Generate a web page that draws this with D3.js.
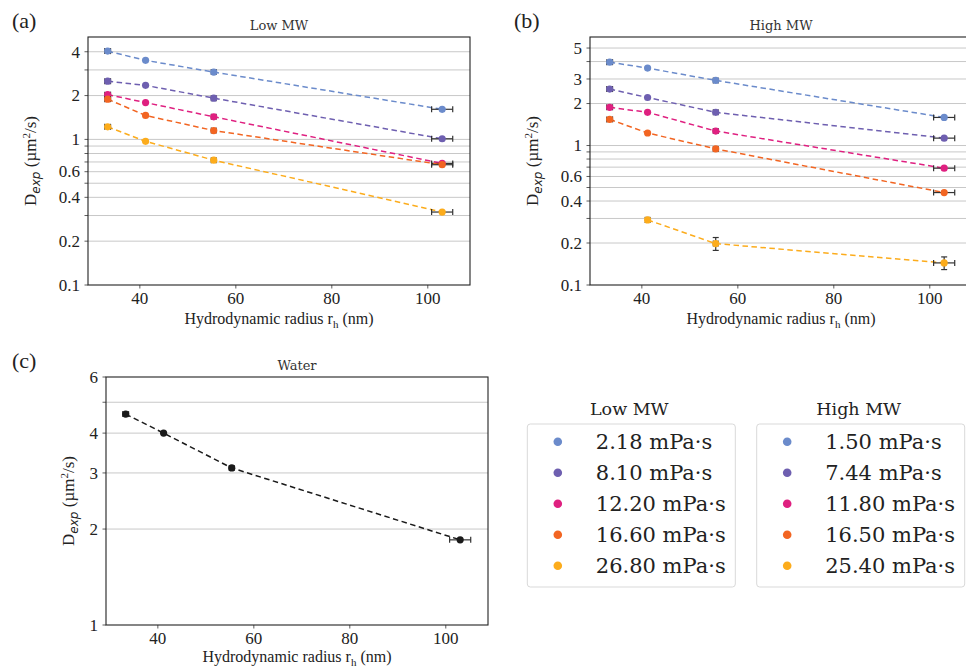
<!DOCTYPE html>
<html>
<head>
<meta charset="utf-8">
<script src="https://cdn.jsdelivr.net/npm/d3@7"></script>
<style>
  html, body { margin: 0; padding: 0; background: #fff; }
  svg { display: block; }
</style>
</head>
<body>
<svg id="chart" width="966" height="667"></svg>
<script>
// ---------------- DATA ----------------
const radius = [33.4, 41.3, 55.5, 103.1];          // hydrodynamic radius (nm)
const radiusErr = [0.6, 0, 0.5, 2.2];              // x error (nm)

const lowMWLabels = ["2.18 mPa·s", "8.10 mPa·s", "12.20 mPa·s", "16.60 mPa·s", "26.80 mPa·s"];
const highMWLabels = ["1.50 mPa·s", "7.44 mPa·s", "11.80 mPa·s", "16.50 mPa·s", "25.40 mPa·s"];
const seriesColors = ["#6b8bcb", "#6e5fb0", "#df2080", "#f26522", "#fcac1c"];

const lowMW_D = [
  [4.04, 3.49, 2.90, 1.61],
  [2.51, 2.35, 1.92, 1.01],
  [2.03, 1.79, 1.43, 0.684],
  [1.89, 1.46, 1.15, 0.670],
  [1.22, 0.97, 0.72, 0.317]
];
const highMW_D = [
  [3.96, 3.59, 2.93, 1.59],
  [2.54, 2.21, 1.73, 1.13],
  [1.88, 1.73, 1.27, 0.688],
  [1.54, 1.23, 0.946, 0.46],
  [null, 0.293, 0.198, 0.144]
];
const highMW_Derr = [
  [0, 0, 0, 0],
  [0, 0, 0, 0],
  [0, 0, 0, 0],
  [0, 0, 0, 0],
  [0, 0.012, 0.021, 0.015]
];
const water_D = [4.59, 4.00, 3.11, 1.85];

const xTicks = [40, 60, 80, 100];
const lowGrid = [0.2, 0.3, 0.4, 0.5, 0.6, 0.7, 0.8, 0.9, 1, 2, 3, 4];
const lowLabels = [0.1, 0.2, 0.4, 0.6, 1, 2, 4];
const highGrid = [0.2, 0.3, 0.4, 0.5, 0.6, 0.7, 0.8, 0.9, 1, 2, 3, 4, 5];
const highLabels = [0.1, 0.2, 0.4, 0.6, 1, 2, 3, 5];
const waterGrid = [2, 3, 4, 5];
const waterLabels = [1, 2, 3, 4, 6];

// ---------------- DRAW ----------------
const svg = d3.select("#chart");
const serif = "'Liberation Serif', 'Times New Roman', serif";
const dserif = "'DejaVu Serif', serif";

function panel(cfg) {
  const g = svg.append("g");
  const x = d3.scaleLinear().domain([29.3, 108.9]).range([cfg.left, cfg.right]);
  const y = d3.scaleLog().domain(cfg.ydom).range([cfg.bottom, cfg.top]);

  const clipId = "clip" + cfg.id;
  svg.append("clipPath").attr("id", clipId).append("rect")
    .attr("x", cfg.left).attr("y", cfg.top)
    .attr("width", cfg.right - cfg.left).attr("height", cfg.bottom - cfg.top);

  // grid
  g.append("g").selectAll("line").data(cfg.grid).join("line")
    .attr("x1", cfg.left).attr("x2", cfg.right)
    .attr("y1", d => y(d)).attr("y2", d => y(d))
    .attr("stroke", "#c8c8c8").attr("stroke-width", 1);

  // y ticks
  const allTicks = Array.from(new Set(cfg.grid.concat(cfg.labels)));
  g.append("g").selectAll("line").data(allTicks).join("line")
    .attr("x1", cfg.left - 3.5).attr("x2", cfg.left)
    .attr("y1", d => y(d)).attr("y2", d => y(d))
    .attr("stroke", "#333").attr("stroke-width", 0.8);
  g.append("g").selectAll("text").data(cfg.labels).join("text")
    .attr("x", cfg.left - 8).attr("y", d => y(d)).attr("dy", "0.34em")
    .attr("text-anchor", "end").attr("font-family", serif).attr("font-size", 17)
    .attr("fill", "#222").text(d => d3.format("~g")(d));

  // x axis
  const xAxis = d3.axisBottom(x).tickValues(xTicks).tickSize(3.5).tickPadding(3);
  const xa = g.append("g").attr("transform", `translate(0,${cfg.bottom})`).call(xAxis);
  xa.select(".domain").remove();
  xa.selectAll("line").attr("stroke", "#333").attr("stroke-width", 0.8);
  xa.selectAll("text").attr("font-family", serif).attr("font-size", 17).attr("fill", "#222");

  // frame
  g.append("rect").attr("x", cfg.left).attr("y", cfg.top)
    .attr("width", cfg.right - cfg.left).attr("height", cfg.bottom - cfg.top)
    .attr("fill", "none").attr("stroke", "#222").attr("stroke-width", 1.1);

  // series
  const plot = g.append("g").attr("clip-path", `url(#${clipId})`);
  cfg.series.forEach((s) => {
    const pts = radius.map((r, i) => ({ x: r, y: s.values[i], xe: radiusErr[i], ye: s.yerr ? s.yerr[i] : 0 }))
      .filter(p => p.y != null);
    const line = d3.line().x(p => x(p.x)).y(p => y(p.y));
    plot.append("path").datum(pts).attr("d", line)
      .attr("fill", "none").attr("stroke", s.color).attr("stroke-width", 1.5)
      .attr("stroke-dasharray", "5.5,3.5");
    const eb = plot.append("g").attr("stroke", "#333").attr("stroke-width", 1.2);
    pts.forEach(p => {
      if (p.xe > 0) {
        const x0 = x(p.x - p.xe), x1 = x(p.x + p.xe), yy = y(p.y);
        eb.append("line").attr("x1", x0).attr("x2", x1).attr("y1", yy).attr("y2", yy);
        eb.append("line").attr("x1", x0).attr("x2", x0).attr("y1", yy - 3).attr("y2", yy + 3);
        eb.append("line").attr("x1", x1).attr("x2", x1).attr("y1", yy - 3).attr("y2", yy + 3);
      }
      if (p.ye > 0) {
        const y0 = y(p.y - p.ye), y1 = y(p.y + p.ye), xx = x(p.x);
        eb.append("line").attr("x1", xx).attr("x2", xx).attr("y1", y0).attr("y2", y1);
        eb.append("line").attr("x1", xx - 3).attr("x2", xx + 3).attr("y1", y0).attr("y2", y0);
        eb.append("line").attr("x1", xx - 3).attr("x2", xx + 3).attr("y1", y1).attr("y2", y1);
      }
    });
    plot.append("g").selectAll("circle").data(pts).join("circle")
      .attr("cx", p => x(p.x)).attr("cy", p => y(p.y)).attr("r", 3.6)
      .attr("fill", s.color);
  });

  // title
  g.append("text").attr("x", (cfg.left + cfg.right) / 2).attr("y", cfg.top - 7)
    .attr("text-anchor", "middle").attr("font-family", dserif).attr("font-size", 13)
    .attr("fill", "#333").text(cfg.title);
  // panel letter
  g.append("text").attr("x", cfg.letterX).attr("y", cfg.top - 9)
    .attr("font-family", serif).attr("font-size", 22).attr("fill", "#222").text(cfg.letter);

  // x label
  const xl = g.append("text").attr("x", (cfg.left + cfg.right) / 2).attr("y", cfg.bottom + cfg.xlabDy)
    .attr("text-anchor", "middle").attr("font-family", serif).attr("font-size", 16).attr("fill", "#222");
  xl.append("tspan").text("Hydrodynamic radius r");
  xl.append("tspan").attr("font-size", 11).attr("dy", 4).text("h");
  xl.append("tspan").attr("dy", -4).text(" (nm)");

  // y label
  const yl = g.append("text")
    .attr("transform", `translate(${cfg.ylabX},${(cfg.top + cfg.bottom) / 2}) rotate(-90)`)
    .attr("text-anchor", "middle").attr("font-family", serif).attr("font-size", 17).attr("fill", "#222");
  yl.append("tspan").text("D");
  yl.append("tspan").attr("font-family", "'DejaVu Sans', sans-serif").attr("font-style", "italic")
    .attr("font-size", 12).attr("dy", 4).text("exp");
  yl.append("tspan").attr("dy", -4).text(" (µm");
  yl.append("tspan").attr("font-size", 11).attr("dy", -6).text("2");
  yl.append("tspan").attr("dy", 6).text("/s)");
}

panel({
  id: "a", left: 88, right: 470, top: 37, bottom: 285, ydom: [0.1, 5.05], xlabDy: 39,
  grid: lowGrid, labels: lowLabels, title: "Low MW", letter: "(a)", letterX: 12, ylabX: 36,
  series: lowMW_D.map((v, i) => ({ values: v, color: seriesColors[i] }))
});
panel({
  id: "b", left: 590, right: 972, top: 37, bottom: 285, ydom: [0.1, 6.0], xlabDy: 39,
  grid: highGrid, labels: highLabels, title: "High MW", letter: "(b)", letterX: 514, ylabX: 538,
  series: highMW_D.map((v, i) => ({ values: v, color: seriesColors[i], yerr: highMW_Derr[i] }))
});
panel({
  id: "c", left: 106, right: 488, top: 377, bottom: 625, ydom: [1, 6], xlabDy: 37,
  grid: waterGrid, labels: waterLabels, title: "Water", letter: "(c)", letterX: 12, ylabX: 74,
  series: [{ values: water_D, color: "#1a1a1a" }]
});

// ---------------- LEGENDS ----------------
function legend(lx, title, labels) {
  const g = svg.append("g");
  const w = 208, top = 424, h = 163;
  g.append("text").attr("x", lx + w / 2 - 2).attr("y", 415).attr("text-anchor", "middle")
    .attr("font-family", dserif).attr("font-size", 17.5).attr("fill", "#222").text(title);
  g.append("rect").attr("x", lx).attr("y", top).attr("width", w).attr("height", h)
    .attr("rx", 3).attr("fill", "#fff").attr("stroke", "#d9d9d9").attr("stroke-width", 1);
  const row = g.selectAll("g.row").data(labels).join("g")
    .attr("transform", (d, i) => `translate(${lx},${441.7 + i * 31})`);
  row.append("circle").attr("cx", 30.5).attr("cy", 0).attr("r", 4.3)
    .attr("fill", (d, i) => seriesColors[i]);
  row.append("text").attr("x", 68.5).attr("y", 0).attr("dy", "0.36em")
    .attr("font-family", dserif).attr("font-size", 21).attr("fill", "#222").text(d => d);
}
legend(527.3, "Low MW", lowMWLabels);
legend(756.7, "High MW", highMWLabels);
</script>
</body>
</html>
